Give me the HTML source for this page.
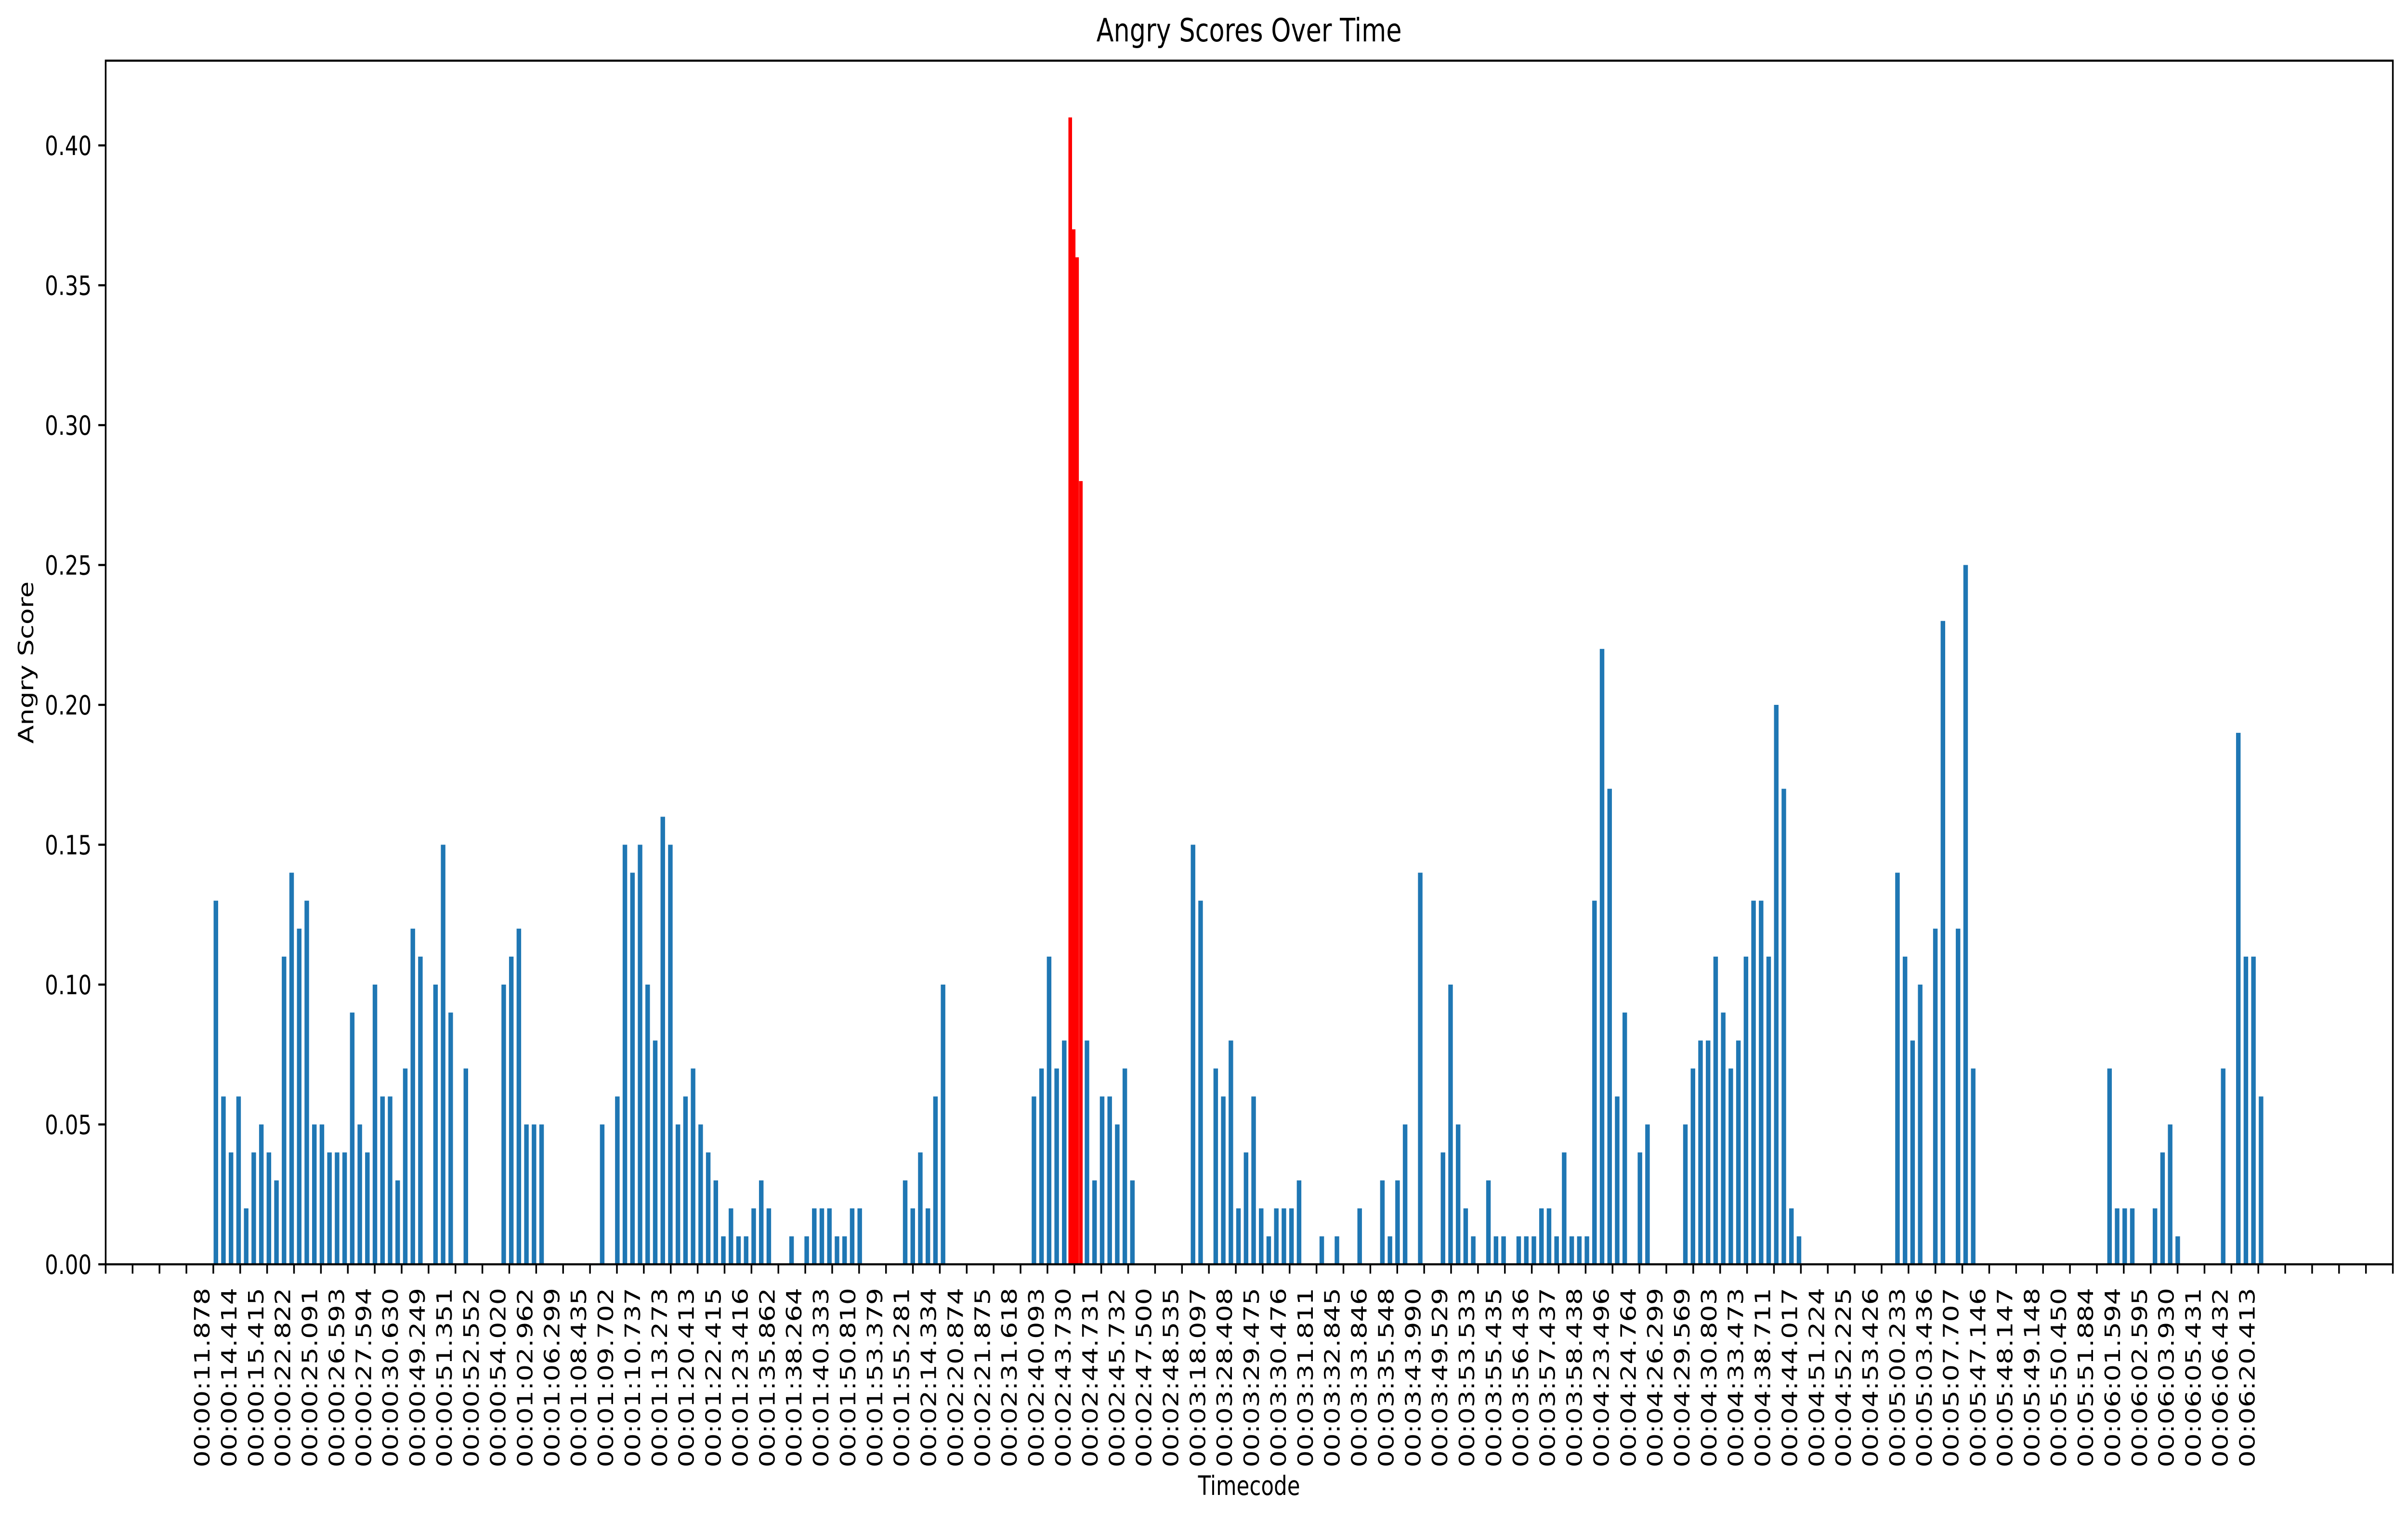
<!DOCTYPE html>
<html>
<head>
<meta charset="utf-8">
<style>
  html, body { margin: 0; padding: 0; background: #fff; overflow: hidden; width: 100vw; height: 100vh; }
  svg { display: block; width: 100vw; height: 100vh; }
  text { font-family: "DejaVu Sans", "Liberation Sans", sans-serif; fill: #000; }
</style>
</head>
<body>
<svg id="chart" viewBox="0 0 6358 3155" preserveAspectRatio="none" xmlns="http://www.w3.org/2000/svg">
  <rect x="0" y="0" width="6358" height="3155" fill="#fff"/>
  <text x="3298" y="86" font-size="66.7" text-anchor="middle">Angry Scores Over Time</text>
  <text x="3298" y="3105" font-size="55.5" text-anchor="middle">Timecode</text>
  <text transform="translate(88,1376) rotate(-90)" font-size="55.5" text-anchor="middle">Angry Score</text>
  <g id="bars"></g>
  <g id="redbars"></g>
  <g id="yaxis"></g>
  <g id="xaxis"></g>
  <rect x="279" y="126" width="6039" height="2500" fill="none" stroke="#000" stroke-width="4.4"/>
</svg>
<script>
// ---- data ----
const scores = [
  .13,.06,.04,.06,.02,.04,.05,.04,.03,.11,
  .14,.12,.13,.05,.05,.04,.04,.04,.09,.05,
  .04,.10,.06,.06,.03,.07,.12,.11,0,.10,
  .15,.09,0,.07,0,0,0,0,.10,.11,
  .12,.05,.05,.05,0,0,0,0,0,0,
  0,.05,0,.06,.15,.14,.15,.10,.08,.16,
  .15,.05,.06,.07,.05,.04,.03,.01,.02,.01,
  .01,.02,.03,.02,0,0,.01,0,.01,.02,
  .02,.02,.01,.01,.02,.02,0,0,0,0,
  0,.03,.02,.04,.02,.06,.10,0,0,0,
  0,0,0,0,0,0,0,0,.06,.07,
  .11,.07,.08,0,0,.08,.03,.06,.06,.05,
  .07,.03,0,0,0,0,0,0,0,.15,
  .13,0,.07,.06,.08,.02,.04,.06,.02,.01,
  .02,.02,.02,.03,0,0,.01,0,.01,0,
  0,.02,0,0,.03,.01,.03,.05,0,.14,
  0,0,.04,.10,.05,.02,.01,0,.03,.01,
  .01,0,.01,.01,.01,.02,.02,.01,.04,.01,
  .01,.01,.13,.22,.17,.06,.09,0,.04,.05,
  0,0,0,0,.05,.07,.08,.08,.11,.09,
  .07,.08,.11,.13,.13,.11,.20,.17,.02,.01,
  0,0,0,0,0,0,0,0,0,0,
  0,0,.14,.11,.08,.10,0,.12,.23,0,
  .12,.25,.07,0,0,0,0,0,0,0,
  0,0,0,0,0,0,0,0,0,0,
  .07,.02,.02,.02,0,0,.02,.04,.05,.01,
  0,0,0,0,0,.07,0,.19,.11,.11,.06
];
const redBins = [113.05, 113.5, 113.95, 114.45];
const redScores = [0.41, 0.37, 0.36, 0.28];
const yTicks = [0, 0.05, 0.10, 0.15, 0.20, 0.25, 0.30, 0.35, 0.40];
const yTickLabels = ["0.00","0.05","0.10","0.15","0.20","0.25","0.30","0.35","0.40"];
const xTickLabels = ["00:00:11.878","00:00:14.414","00:00:15.415","00:00:22.822","00:00:25.091","00:00:26.593","00:00:27.594","00:00:30.630","00:00:49.249","00:00:51.351","00:00:52.552","00:00:54.020","00:01:02.962","00:01:06.299","00:01:08.435","00:01:09.702","00:01:10.737","00:01:13.273","00:01:20.413","00:01:22.415","00:01:23.416","00:01:35.862","00:01:38.264","00:01:40.333","00:01:50.810","00:01:53.379","00:01:55.281","00:02:14.334","00:02:20.874","00:02:21.875","00:02:31.618","00:02:40.093","00:02:43.730","00:02:44.731","00:02:45.732","00:02:47.500","00:02:48.535","00:03:18.097","00:03:28.408","00:03:29.475","00:03:30.476","00:03:31.811","00:03:32.845","00:03:33.846","00:03:35.548","00:03:43.990","00:03:49.529","00:03:53.533","00:03:55.435","00:03:56.436","00:03:57.437","00:03:58.438","00:04:23.496","00:04:24.764","00:04:26.299","00:04:29.569","00:04:30.803","00:04:33.473","00:04:38.711","00:04:44.017","00:04:51.224","00:04:52.225","00:04:53.426","00:05:00.233","00:05:03.436","00:05:07.707","00:05:47.146","00:05:48.147","00:05:49.148","00:05:50.450","00:05:51.884","00:06:01.594","00:06:02.595","00:06:03.930","00:06:05.431","00:06:06.432","00:06:20.413"];
const tickCount = 86;
const firstLabelTick = 4;

// ---- scales ----
const NS = "http://www.w3.org/2000/svg";
const X0 = 279, X1 = 6318, Y0 = 2626, PX_PER_UNIT = 5810;
const BIN0 = 560, BIN_W = 20;
function yScale(v) { return Y0 - v * PX_PER_UNIT; }
function binX(i) { return BIN0 + i * BIN_W; }
function tickX(k) { return X0 + k * (X1 - X0) / (tickCount - 1); }

const barsG = document.getElementById('bars');
scores.forEach((v, i) => {
  if (v <= 0) return;
  const r = document.createElementNS(NS, 'rect');
  const cx = binX(i) + BIN_W / 2;
  r.setAttribute('x', cx - 6);
  r.setAttribute('width', 12);
  r.setAttribute('y', yScale(v));
  r.setAttribute('height', Y0 - yScale(v));
  r.setAttribute('fill', '#1f77b4');
  
  
  barsG.appendChild(r);
});

const redG = document.getElementById('redbars');
redBins.forEach((b, i) => {
  const r = document.createElementNS(NS, 'rect');
  r.setAttribute('x', binX(b));
  r.setAttribute('width', 9.6);
  r.setAttribute('y', yScale(redScores[i]));
  r.setAttribute('height', Y0 - yScale(redScores[i]));
  r.setAttribute('fill', '#ff0000');
  
  
  redG.appendChild(r);
});

const yG = document.getElementById('yaxis');
yTicks.forEach((v, i) => {
  const y = yScale(v);
  const l = document.createElementNS(NS, 'line');
  l.setAttribute('x1', X0 - 19.4); l.setAttribute('x2', X0);
  l.setAttribute('y1', y); l.setAttribute('y2', y);
  l.setAttribute('stroke', '#000'); l.setAttribute('stroke-width', 4.4);
  
  
  yG.appendChild(l);
  const t = document.createElementNS(NS, 'text');
  t.setAttribute('x', X0 - 37); t.setAttribute('y', y + 20);
  t.setAttribute('font-size', '55.5'); t.setAttribute('text-anchor', 'end');
  t.textContent = yTickLabels[i];
  
  
  yG.appendChild(t);
});

const xG = document.getElementById('xaxis');
for (let k = 0; k < tickCount; k++) {
  const x = tickX(k);
  const l = document.createElementNS(NS, 'line');
  l.setAttribute('x1', x); l.setAttribute('x2', x);
  l.setAttribute('y1', Y0); l.setAttribute('y2', Y0 + 19.4);
  l.setAttribute('stroke', '#000'); l.setAttribute('stroke-width', 4.4);
  
  
  xG.appendChild(l);
}
xTickLabels.forEach((s, i) => {
  const x = tickX(firstLabelTick + i) - 10;
  const t = document.createElementNS(NS, 'text');
  t.setAttribute('transform', 'translate(' + x + ',2675) rotate(-90)');
  t.setAttribute('font-size', '55.5'); t.setAttribute('text-anchor', 'end');
  t.textContent = s;
  
  
  xG.appendChild(t);
});
</script>
</body>
</html>
